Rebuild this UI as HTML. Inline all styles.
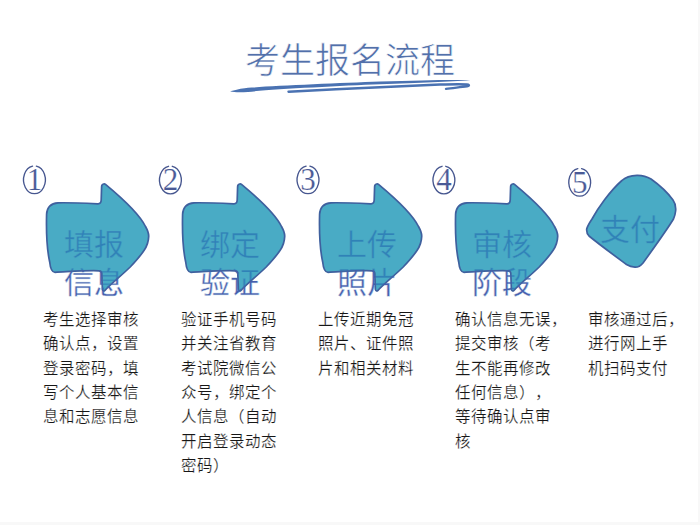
<!DOCTYPE html>
<html lang="zh-CN">
<head>
<meta charset="utf-8">
<style>
html,body{margin:0;padding:0;background:#fff;}
.edge-r{position:absolute;right:0;top:0;width:2px;height:525px;background:#f8f8f8;}
.edge-b{position:absolute;left:0;bottom:0;width:700px;height:3px;background:#f8f8f8;}
body{width:700px;height:525px;position:relative;overflow:hidden;font-family:"Liberation Serif",serif;}
.t{position:absolute;left:0;top:0;}
.lbl{position:absolute;width:80px;font-size:30px;line-height:38px;color:#4560a8;white-space:nowrap;-webkit-text-stroke:0.45px #fff;text-align:center;}
.body{position:absolute;text-spacing-trim:space-all;font-size:15.5px;line-height:24.33px;-webkit-text-stroke:0.2px #fff;color:#161616;white-space:nowrap;}
svg{position:absolute;left:0;top:0;}
.lt{-webkit-text-stroke:0.3px #49abc5;color:#4b5fc0;opacity:0.25;}
</style>
</head>
<body>
<div class="edge-r"></div><div class="edge-b"></div>
<div class="lbl" style="left:54px;top:226px;">填报<br>信息</div>
<div class="lbl" style="left:190px;top:226px;">绑定<br>验证</div>
<div class="lbl" style="left:327px;top:226px;">上传<br>照片</div>
<div class="lbl" style="left:462px;top:226px;">审核<br>阶段</div>
<div class="lbl" style="left:590px;top:211px;">支付</div>

<svg width="700" height="525" viewBox="0 0 700 525">
  <defs>
    <path id="arr" d="M103.5 184 C102 184.3 101.6 185.5 101.6 187 L101.2 200 C101.1 202.8 100.5 203.8 98 203.8 C85 203.2 70 202.5 58 202.8 C50.5 203.3 47 207.3 46.6 214.3 C46.2 230 47 250 49.7 262 C50.3 268.5 51.8 272.3 55 272.3 C70 271.6 85 270.3 99 270.8 C101 271 101.8 272 101.8 273.5 L102.4 289.5 C102.6 291 104 291.3 105 290.3 C112 283 122 275 130.2 267 C134 263 140 256.5 144 250.5 C146.5 247 148.5 242 148.7 236.4 C148.8 233 147.5 230 145.5 226.5 C140 215 122 198 105.5 184.3 C105 183.9 104 183.8 103.5 184 Z"/>
  </defs>
  <g fill="#2199b8" fill-opacity="0.82" stroke="#3f609e" stroke-width="1.7" stroke-linejoin="round">
    <use href="#arr"/>
    <use href="#arr" transform="translate(136 0)"/>
    <use href="#arr" transform="translate(273 0)"/>
    <use href="#arr" transform="translate(409 0)"/>
    <path d="M586.7 229 C587.5 226 590 222 592 219 C598 208 610 191 621.9 180.5 C625 177.5 630 175.5 637 175.3 C642 175.2 647 176.5 651 179 C658 184 668 193 673 200 C675.5 203.5 676 207 675.6 211 C675.3 214 674.8 216 673.5 219 C668 228 656 245 643 263 C640.5 266 637.5 267.3 635 267.2 C632 267 629.5 266.3 626.5 264.5 C615 256 600 245 589 236 C587 234 586.5 231.5 586.7 229 Z"/>
  </g>
  <!-- title underline -->
  <path fill="#4a72b2" d="M230.1 91.3 C238 89.3 244 88.1 248 87.8 C270 86.1 340 83.1 380 81.6 C420 80.3 450 79.7 470.2 80.2 C450 81.3 420 83 380 84.3 C340 85.8 270 89.5 248 91.9 C240 92.7 234 92.4 230.1 91.3 Z"/>
  <path fill="none" stroke="#4a72b2" stroke-width="2.4" stroke-linecap="round" stroke-linejoin="round" d="M288.5 91.7 C340 89 400 86 440 84.5 C455 84.2 465 84 468.2 84.6 C469.5 85.2 469 86 467 86.4 C460 87.3 452 88.1 446 88.9"/>
  <!-- circled numbers -->
  <g fill="none" stroke="#46568f" stroke-width="1.35" stroke-linecap="round">
    <path d="M36.34 166.11 A10.9 13.9 0 1 1 32.56 166.11"/>
    <path d="M172.29 166.31 A10.9 13.9 0 1 1 168.51 166.31"/>
    <path d="M309.89 166.11 A10.9 13.9 0 1 1 306.11 166.11"/>
    <path d="M445.79 166.31 A10.9 13.9 0 1 1 442.01 166.31"/>
    <path d="M581.59 168.61 A10.9 13.9 0 1 1 577.81 168.61"/>
  </g>
  <g fill="#4a5a96" stroke="#fff" stroke-width="0.2" font-family="Liberation Serif" font-size="31" text-anchor="middle">
    <text x="34.45" y="190.0">1</text>
    <text x="170.4" y="190.2">2</text>
    <text x="308" y="190.0">3</text>
    <text x="443.9" y="190.2">4</text>
    <text x="579.7" y="192.5">5</text>
  </g>
</svg>
<div class="lbl lt" style="left:54px;top:226px;">填报<br>信息</div>
<div class="lbl lt" style="left:190px;top:226px;">绑定<br>验证</div>
<div class="lbl lt" style="left:327px;top:226px;">上传<br>照片</div>
<div class="lbl lt" style="left:462px;top:226px;">审核<br>阶段</div>
<div class="lbl lt" style="left:590px;top:211px;">支付</div>

<div style="position:absolute;left:245px;top:40px;font-size:35px;line-height:44px;color:#5270aa;-webkit-text-stroke:0.6px #fff;letter-spacing:0px;white-space:nowrap;">考生报名流程</div>

<div class="body" style="left:43px;top:308px;">考生选择审核<br>确认点，设置<br>登录密码，填<br>写个人基本信<br>息和志愿信息</div>
<div class="body" style="left:181px;top:308px;">验证手机号码<br>并关注省教育<br>考试院微信公<br>众号，绑定个<br>人信息（自动<br>开启登录动态<br>密码）</div>
<div class="body" style="left:318px;top:308px;">上传近期免冠<br>照片、证件照<br>片和相关材料</div>
<div class="body" style="left:455px;top:308px;">确认信息无误，<br>提交审核（考<br>生不能再修改<br>任何信息），<br>等待确认点审<br>核</div>
<div class="body" style="left:588px;top:308px;">审核通过后，<br>进行网上手<br>机扫码支付</div>
</body>
</html>
